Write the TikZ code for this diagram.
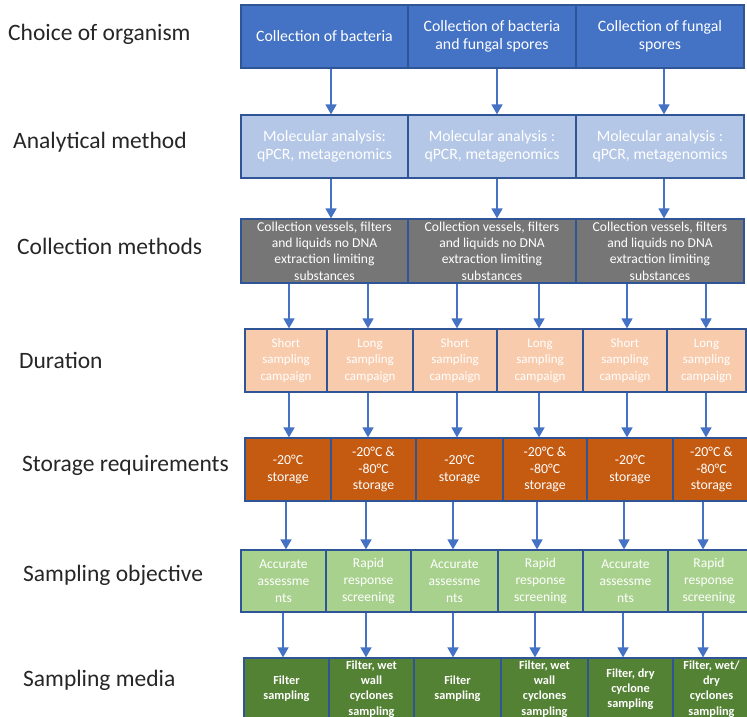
\documentclass[tikz,border=0pt]{standalone}
\usepackage{fontspec}
\setmainfont{Carlito}
\usetikzlibrary{arrows.meta}

\definecolor{cellborder}{HTML}{2F5597}
\definecolor{arrowblue}{HTML}{4472C4}
\definecolor{labeltext}{HTML}{262626}
\definecolor{orgfill}{HTML}{4472C4}
\definecolor{methodfill}{HTML}{B4C7E7}
\definecolor{collectfill}{HTML}{767676}
\definecolor{durfill}{HTML}{F8CBAD}
\definecolor{storefill}{HTML}{C55A11}
\definecolor{objfill}{HTML}{A9D18E}
\definecolor{mediafill}{HTML}{548235}

\begin{document}
\begin{tikzpicture}[x=1pt,y=-1pt,
  cell/.style={draw=cellborder, line width=1.2pt, inner sep=0pt, align=center, text=white},
  org/.style={cell, fill=orgfill, minimum height=63pt, font=\fontsize{15.8}{18}\selectfont},
  method/.style={cell, fill=methodfill, minimum height=63pt, font=\fontsize{15.8}{18}\selectfont},
  collect/.style={cell, fill=collectfill, minimum height=64pt, font=\fontsize{13.6}{16.3}\selectfont},
  dur/.style={cell, fill=durfill, minimum height=63pt, font=\fontsize{13}{16.5}\selectfont},
  store/.style={cell, fill=storefill, minimum height=63pt, font=\fontsize{13.8}{16.5}\selectfont},
  obj/.style={cell, fill=objfill, minimum height=62pt, font=\fontsize{13.5}{17}\selectfont},
  media/.style={cell, fill=mediafill, minimum height=62pt, font=\bfseries\fontsize{12.3}{15.2}\selectfont},
  arr/.style={draw=arrowblue, line width=1.5pt, -{Triangle[width=11pt,length=10pt]}},
  rowlabel/.style={anchor=base west, inner sep=0pt, text=labeltext, font=\fontsize{23.5}{28}\selectfont}]

\useasboundingbox (0,0) rectangle (747,717);

% row titles
\node[rowlabel] (t1) at (8,41)  {Choice of organism};
\node[rowlabel] (t2) at (13,148) {Analytical method};
\node[rowlabel] (t3) at (17,254) {Collection methods};
\node[rowlabel] (t4) at (19,368) {Duration};
\node[rowlabel] (t5) at (22,471) {Storage requirements};
\node[rowlabel] (t6) at (23,581) {Sampling objective};
\node[rowlabel] (t7) at (23,686) {Sampling media};

% organism
\node[org, minimum width=167pt] (a1) at (324.5,36.5) {Collection of bacteria};
\node[org, minimum width=168pt] (a2) at (492,36.5) {Collection of bacteria\\and fungal spores};
\node[org, minimum width=168pt] (a3) at (660,36.5) {Collection of fungal\\spores};

% analytical method
\node[method, minimum width=167pt] (b1) at (324.5,146.5) {Molecular analysis:\\qPCR, metagenomics};
\node[method, minimum width=168pt] (b2) at (492,146.5) {Molecular analysis :\\qPCR, metagenomics};
\node[method, minimum width=168pt] (b3) at (660,146.5) {Molecular analysis :\\qPCR, metagenomics};

% collection methods
\node[collect, minimum width=167pt] (c1) at (324.5,251) {Collection vessels, filters\\and liquids no DNA\\extraction limiting\\substances};
\node[collect, minimum width=168pt] (c2) at (492,251) {Collection vessels, filters\\and liquids no DNA\\extraction limiting\\substances};
\node[collect, minimum width=168pt] (c3) at (660,251) {Collection vessels, filters\\and liquids no DNA\\extraction limiting\\substances};

% duration
\node[dur, minimum width=82pt] (d1) at (286,360.5) {Short\\sampling\\campaign};
\node[dur, minimum width=86pt] (d2) at (370,360.5) {Long\\sampling\\campaign};
\node[dur, minimum width=84pt] (d3) at (455,360.5) {Short\\sampling\\campaign};
\node[dur, minimum width=86pt] (d4) at (540,360.5) {Long\\sampling\\campaign};
\node[dur, minimum width=84pt] (d5) at (625,360.5) {Short\\sampling\\campaign};
\node[dur, minimum width=79pt] (d6) at (706.5,360.5) {Long\\sampling\\campaign};

% storage
\node[store, minimum width=86pt] (e1) at (288,469.5) {-20°C\\storage};
\node[store, minimum width=85pt] (e2) at (373.5,469.5) {-20°C \&\\-80°C\\storage};
\node[store, minimum width=87pt] (e3) at (459.5,469.5) {-20°C\\storage};
\node[store, minimum width=84pt] (e4) at (545,469.5) {-20°C \&\\-80°C\\storage};
\node[store, minimum width=86pt] (e5) at (630,469.5) {-20°C\\storage};
\node[store, minimum width=77pt] (e6) at (711.5,469.5) {-20°C \&\\-80°C\\storage};

% sampling objective
\node[obj, minimum width=85pt] (f1) at (283.5,581) {Accurate\\assessme\\nts};
\node[obj, minimum width=85pt] (f2) at (368.5,581) {Rapid\\response\\screening};
\node[obj, minimum width=87pt] (f3) at (454.5,581) {Accurate\\assessme\\nts};
\node[obj, minimum width=85pt] (f4) at (540.5,581) {Rapid\\response\\screening};
\node[obj, minimum width=85pt] (f5) at (625.5,581) {Accurate\\assessme\\nts};
\node[obj, minimum width=82pt] (f6) at (709,581) {Rapid\\response\\screening};

% sampling media
\node[media, minimum width=85pt] (g1) at (286.5,689) {Filter\\sampling};
\node[media, minimum width=85pt] (g2) at (371.5,689) {Filter, wet\\wall\\cyclones\\sampling};
\node[media, minimum width=87pt] (g3) at (457.5,689) {Filter\\sampling};
\node[media, minimum width=87pt] (g4) at (544.5,689) {Filter, wet\\wall\\cyclones\\sampling};
\node[media, minimum width=85pt] (g5) at (630.5,689) {Filter, dry\\cyclone\\sampling};
\node[media, minimum width=77pt] (g6) at (711.5,689) {Filter, wet/\\dry\\cyclones\\sampling};

% arrow columns
\coordinate (p1) at (331,0);
\coordinate (p2) at (497,0);
\coordinate (p3) at (664,0);
\foreach \i/\x in {1/289,2/368,3/457,4/539,5/627,6/706}{\coordinate (q\i) at (\x,0);}
\foreach \i/\x in {1/286,2/366,3/453,4/537,5/624,6/703}{\coordinate (r\i) at (\x,0);}
\foreach \i/\x in {1/283,2/366,3/453,4/535,5/623,6/703}{\coordinate (s\i) at (\x,0);}

% connectors
\foreach \i in {1,2,3}{
  \draw[arr] (a\i.south -| p\i) -- (b\i.north -| p\i);
  \draw[arr] (b\i.south -| p\i) -- (c\i.north -| p\i);
}
\draw[arr] (c1.south -| q1) -- (d1.north -| q1);
\draw[arr] (c1.south -| q2) -- (d2.north -| q2);
\draw[arr] (c2.south -| q3) -- (d3.north -| q3);
\draw[arr] (c2.south -| q4) -- (d4.north -| q4);
\draw[arr] (c3.south -| q5) -- (d5.north -| q5);
\draw[arr] (c3.south -| q6) -- (d6.north -| q6);
\foreach \i in {1,...,6}{
  \draw[arr] (d\i.south -| q\i) -- (e\i.north -| q\i);
  \draw[arr] (e\i.south -| r\i) -- (f\i.north -| r\i);
  \draw[arr] (f\i.south -| s\i) -- (g\i.north -| s\i);
}
\end{tikzpicture}
\end{document}
